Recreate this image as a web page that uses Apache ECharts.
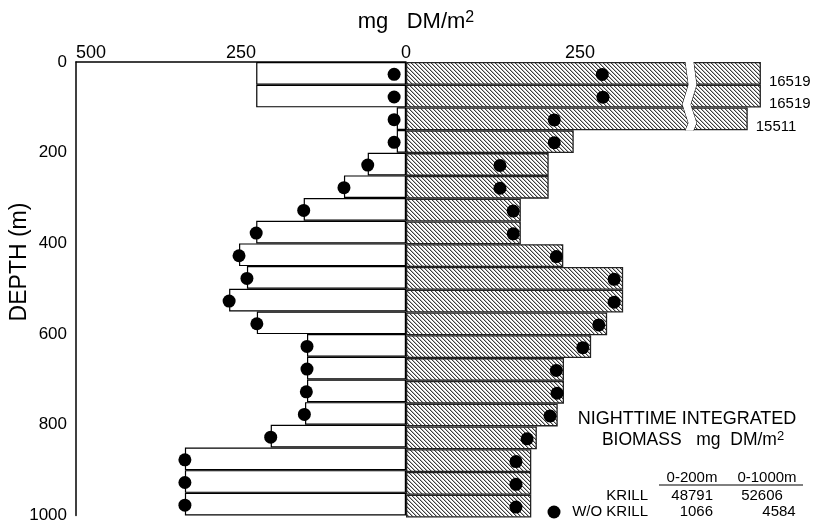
<!DOCTYPE html>
<html><head><meta charset="utf-8">
<script src="https://cdn.jsdelivr.net/npm/echarts@6/dist/echarts.min.js"></script>
<style>html,body{margin:0;padding:0;background:#fff}#c{width:813px;height:524px}</style>
</head><body><div id="c"></div>
<script>
// ---- data ----
const depthBins = ['0-50','50-100','100-150','150-200','200-250','250-300','300-350','350-400','400-450','450-500',
  '500-550','550-600','600-650','650-700','700-750','750-800','800-850','850-900','900-950','950-1000'];
const depthTicks = [0, 200, 400, 600, 800, 1000];
const leftBars  = [227,227,14,14,58,94,155,227,253,241,268,226,150,150,150,153,205,335,335,335];
const leftDots  = [18,18,18,18,58,94,155,227,253,241,268,226,150,150,151,154,205,335,335,335];
const rightBars = [16519,16519,15511,241,205,205,165,165,226,312,312,289,266,227,227,218,188,180,180,180];
const rightDots = [282,283,213,213,135,135,154,154,216,299,299,277,254,216,217,207,174,158,158,158];
const leftTicks = [0, 250, 500];
const rightTicks = [250];
const summaryHeader = ['0-200m', '0-1000m'];
const summaryKrill = ['48791', '52606'];
const summaryWoKrill = ['1066', '4584'];

// ---- layout ----
const FONT = "'Liberation Sans', Arial, Helvetica, sans-serif";
const TOP = 62, BOTTOM = 517.5, ZERO = 406, LEFTX = 76;
const rowH = (BOTTOM - TOP) / depthBins.length;
const pxPerUnitR = 174 / 250;
const nTop = 3;

// hatch pattern
const pc = document.createElement('canvas');
pc.width = 4; pc.height = 4;
const pctx = pc.getContext('2d');
pctx.fillStyle = '#fff'; pctx.fillRect(0,0,4,4);
for (let i = 0; i < 4; i++) {
  pctx.fillStyle = '#3c3c3c'; pctx.fillRect(i, i, 1, 1);
  pctx.fillStyle = '#b8b8b8'; pctx.fillRect((i + 1) % 4, i, 1, 1);
}
const hatch = { image: pc, repeat: 'repeat' };

const brkStart = 401, brkGap = 12, brkEnd = 15433;
const r1Max = 15529;
const r1Width = (brkStart + brkGap + (r1Max - brkEnd)) * pxPerUnitR;
const r2Max = 500;

const chart = echarts.init(document.getElementById('c'), null, { renderer: 'canvas' });

const labelStyle = { color: '#000', fontFamily: FONT };
const dotStyle = { color: '#000', opacity: 1 };

function txt(x, y, text, size, align) {
  return { type: 'text', x: x, y: y, style: { text: text, fontSize: size, fontFamily: FONT, fill: '#000',
    textAlign: align || 'center', textVerticalAlign: 'middle' } };
}

chart.setOption({
  animation: false,
  backgroundColor: '#fff',
  grid: [
    { left: LEFTX, top: TOP, width: ZERO - LEFTX, height: BOTTOM - TOP },
    { left: ZERO, top: TOP, width: r1Width, height: rowH * nTop },
    { left: ZERO, top: TOP + rowH * nTop, width: r2Max * pxPerUnitR, height: rowH * (depthBins.length - nTop) }
  ],
  xAxis: [
    { gridIndex: 0, type: 'value', min: 0, max: 500, interval: 250, inverse: true, position: 'top',
      axisLine: { show: true, lineStyle: { color: '#000', width: 1.5 } },
      axisTick: { show: false }, splitLine: { show: false },
      axisLabel: Object.assign({ fontSize: 18, margin: 0, alignMaxLabel: 'left',
        formatter: v => leftTicks.includes(v) ? String(v) : '' }, labelStyle) },
    { gridIndex: 1, type: 'value', min: 0, max: r1Max, position: 'top',
      breaks: [{ start: brkStart, end: brkEnd, gap: brkGap }],
      breakArea: { show: true, expandOnClick: false,
        itemStyle: { color: '#fff', borderColor: '#000', borderWidth: 1, borderType: 'solid', opacity: 1 },
        zigzagAmplitude: 3, zigzagMinSpan: 14, zigzagMaxSpan: 24 },
      axisLine: { show: false }, axisTick: { show: false }, splitLine: { show: false },
      axisLabel: Object.assign({ fontSize: 18, margin: 0, customValues: rightTicks }, labelStyle) },
    { gridIndex: 2, type: 'value', min: 0, max: r2Max, show: false, splitLine: { show: false } }
  ],
  yAxis: [
    { gridIndex: 0, type: 'category', data: depthBins, inverse: true, show: false },
    { gridIndex: 0, type: 'value', min: 0, max: 1000, interval: 200, inverse: true, position: 'left',
      axisLine: { show: true, lineStyle: { color: '#000', width: 1.5 } },
      axisTick: { show: false }, splitLine: { show: false },
      axisLabel: Object.assign({ fontSize: 17, margin: 9, padding: [4, 0, 0, 0],
        formatter: v => depthTicks.includes(v) ? String(v) : '' }, labelStyle) },
    { gridIndex: 1, type: 'category', data: depthBins.slice(0, nTop), inverse: true, show: false },
    { gridIndex: 2, type: 'category', data: depthBins.slice(nTop), inverse: true, show: false }
  ],
  series: [
    { type: 'bar', xAxisIndex: 0, yAxisIndex: 0, data: leftBars, barCategoryGap: 0, silent: true, z: 2,
      itemStyle: { color: '#fff', borderColor: '#000', borderWidth: 1.2 } },
    { type: 'scatter', xAxisIndex: 0, yAxisIndex: 0, data: leftDots, symbolSize: 13, symbolOffset: [0, 1],
      itemStyle: dotStyle, silent: true, z: 4 },
    { type: 'bar', xAxisIndex: 1, yAxisIndex: 2, data: rightBars.slice(0, nTop), barCategoryGap: 0, silent: true, z: 2,
      clip: true,
      itemStyle: { color: hatch, borderColor: '#222', borderWidth: 1.3 },
      label: { show: true, position: 'right', distance: 8, offset: [0, 8], fontSize: 15, color: '#000', fontFamily: FONT } },
    { type: 'scatter', xAxisIndex: 1, yAxisIndex: 2, data: rightDots.slice(0, nTop), symbolSize: 13, symbolOffset: [0, 1],
      itemStyle: dotStyle, silent: true, z: 4 },
    { type: 'bar', xAxisIndex: 2, yAxisIndex: 3, data: rightBars.slice(nTop), barCategoryGap: 0, silent: true, z: 2,
      itemStyle: { color: hatch, borderColor: '#222', borderWidth: 1.3 } },
    { type: 'scatter', xAxisIndex: 2, yAxisIndex: 3, data: rightDots.slice(nTop), symbolSize: 13, symbolOffset: [0, 1],
      itemStyle: dotStyle, silent: true, z: 4 }
  ],
  graphic: [
    { type: 'text', x: 416, y: 21, style: { text: '{a|mg   DM/m}{b|2}', textAlign: 'center', textVerticalAlign: 'middle',
      rich: { a: { fontSize: 22, fontFamily: FONT, fill: '#000', verticalAlign: 'bottom', lineHeight: 23 },
              b: { fontSize: 16, fontFamily: FONT, fill: '#000', verticalAlign: 'top', lineHeight: 17 } } } },
    { type: 'text', x: 20, y: 262, rotation: Math.PI / 2, style: { text: 'DEPTH (m)', fontSize: 23, fontFamily: FONT, fill: '#000',
      textAlign: 'center', textVerticalAlign: 'middle' } },
    txt(687, 419.5, 'NIGHTTIME INTEGRATED', 18),
    { type: 'text', x: 693, y: 439.5, style: { text: '{a|BIOMASS   mg  DM/m}{b|2}', textAlign: 'center', textVerticalAlign: 'middle',
      rich: { a: { fontSize: 17.5, fontFamily: FONT, fill: '#000', verticalAlign: 'bottom', lineHeight: 19 },
              b: { fontSize: 13, fontFamily: FONT, fill: '#000', verticalAlign: 'top', lineHeight: 13 } } } },
    txt(692, 477.5, summaryHeader[0], 15),
    txt(767, 477.5, summaryHeader[1], 15),
    { type: 'line', shape: { x1: 659, y1: 485, x2: 803, y2: 485 }, style: { stroke: '#000', lineWidth: 1 } },
    txt(648, 495.5, 'KRILL', 15, 'right'),
    txt(713, 495.5, summaryKrill[0], 15, 'right'),
    txt(762, 495.5, summaryKrill[1], 15),
    { type: 'circle', shape: { cx: 554, cy: 512, r: 6.5 }, style: { fill: '#000' } },
    txt(648, 512, 'W/O KRILL', 15, 'right'),
    txt(713, 512, summaryWoKrill[0], 15, 'right'),
    txt(779, 512, summaryWoKrill[1], 15)
  ]
});
</script>
</body></html>
